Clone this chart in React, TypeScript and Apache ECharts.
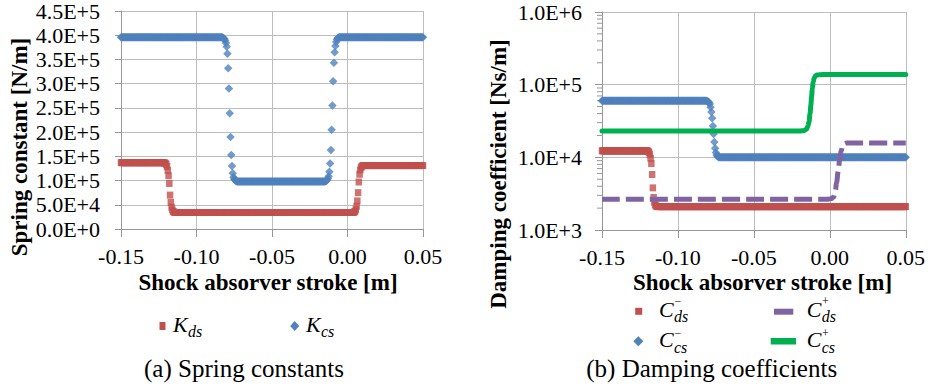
import React, { useEffect, useRef } from "react";
import * as echarts from "echarts";

// ---------- data ----------
const STEP = 0.0005; // stroke sampling step [m]
const strokeX: number[] = Array.from({ length: 401 }, (_, i) => Math.round((-0.15 + i * STEP) * 10000) / 10000);
const rep = (v: number, n: number): number[] => Array(n).fill(v);

// Spring constants, in 1000 N/m, on strokeX
const kdsValues: number[] = [
  ...rep(137, 57),
  136.8, 136.3, 135.5, 133.5, 129, 121, 110, 94, 70, 55, 45, 39.5, 36.5, 35, 34.4, 34.1,
  ...rep(34, 234),
  34.1, 34.4, 35, 36.5, 40, 47, 58, 75, 97, 113, 122, 127, 129.5, 130.5,
  ...rep(131, 80),
];
const kcsValues: number[] = [
  ...rep(396, 135),
  395, 394, 392, 389, 384, 376, 362, 332, 290, 239, 190, 153, 130, 115, 107, 103, 101, 99.5, 98.5,
  ...rep(98, 117),
  98.5, 99.5, 101, 104, 109, 118, 135, 163, 205, 255, 305, 343, 365, 378, 386, 391, 394, 395,
  ...rep(396, 112),
];

// Damping coefficients, in 1000 Ns/m
const cdsMinusValues: number[] = [
  ...rep(12.3, 60),
  12.25, 12.1, 11.7, 10.9, 9.7, 8.2, 5.8, 3.8, 2.8, 2.4, 2.22, 2.15, 2.11,
  ...rep(2.1, 328),
];
const ccsMinusValues: number[] = [
  ...rep(60, 138),
  59.7, 59.2, 58.3, 56.8, 54, 49, 42, 34.5, 27, 21, 16.3, 13.3, 11.7, 10.8, 10.35, 10.15, 10.05,
  ...rep(10, 246),
];
const cdsPlusPoints: [number, number][] = [
  [-0.15, 2.65], [-0.001, 2.65], [0.001, 2.7], [0.0025, 2.85], [0.0035, 3.3], [0.0045, 4.5],
  [0.0055, 6.5], [0.0065, 9.2], [0.0075, 12.2], [0.0085, 14.5], [0.0095, 15.4], [0.011, 15.7], [0.05, 15.7],
];
const ccsPlusPoints: [number, number][] = [
  [-0.15, 23], [-0.02, 23], [-0.017, 23.3], [-0.0155, 24.2], [-0.0145, 26.5], [-0.0137, 31],
  [-0.013, 40], [-0.0125, 52], [-0.012, 68], [-0.0115, 88], [-0.011, 108], [-0.0103, 124],
  [-0.0095, 132], [-0.0085, 135.5], [-0.007, 137], [-0.005, 137.5], [0.05, 137.5],
];

const minorTickValues: number[] = [
  2e3, 3e3, 4e3, 5e3, 6e3, 7e3, 8e3, 9e3,
  2e4, 3e4, 4e4, 5e4, 6e4, 7e4, 8e4, 9e4,
  2e5, 3e5, 4e5, 5e5, 6e5, 7e5, 8e5, 9e5,
];

// ---------- styles ----------
const FONT = "Liberation Serif";
const GRID_C = "#bdbdbd";
const AXIS_C = "#979797";
const RED = "#C0504D";
const BLUE = "#4F81BD";
const PURPLE = "#8064A2";
const GREEN = "#00B050";

const fmtX = (v: number) => (Math.abs(v) < 1e-9 ? 0 : v).toFixed(2);
const fmtSci = (v: number) => v.toExponential(1).replace("e", "E");
const fmtLog = (v: number) => "1.0E+" + Math.round(Math.log10(v));

const txt = (
  text: string,
  x: number,
  y: number,
  size: number,
  opts: { align?: string; italic?: boolean; bold?: boolean; rotation?: number; lineHeight?: number } = {}
) => ({
  type: "text",
  x,
  y,
  rotation: opts.rotation || 0,
  silent: true,
  style: {
    text,
    fontSize: size,
    fontFamily: FONT,
    fontStyle: opts.italic ? "italic" : "normal",
    fontWeight: opts.bold ? "bold" : "normal",
    align: opts.align || "left",
    verticalAlign: "middle",
    lineHeight: opts.lineHeight || size,
    fill: "#000",
  },
});

const diamond = (cx: number, cy: number, w: number, h: number, color: string) => ({
  type: "polygon",
  silent: true,
  shape: { points: [[cx, cy - h / 2], [cx + w / 2, cy], [cx, cy + h / 2], [cx - w / 2, cy]] },
  style: { fill: color },
});
const box = (x: number, y: number, w: number, h: number, color: string) => ({
  type: "rect",
  silent: true,
  shape: { x, y, width: w, height: h },
  style: { fill: color },
});

function buildOption() {
  const xAxisCommon = (gridIndex: number) => ({
    type: "value",
    gridIndex,
    min: -0.15,
    max: 0.05,
    interval: 0.05,
    axisLine: { show: true, onZero: false, lineStyle: { color: AXIS_C, width: 1 } },
    axisTick: { show: true, length: 8, lineStyle: { color: AXIS_C, width: 1 } },
    axisLabel: { margin: 16, fontFamily: FONT, fontSize: 22, color: "#000", formatter: fmtX },
    splitLine: { show: true, lineStyle: { color: GRID_C, width: 1 } },
  });

  const sup = (t: string, x: number, y: number) => txt(t, x, y, 12, { lineHeight: 12 });
  const sub = (t: string, x: number, y: number) => txt(t, x, y, 16, { italic: true, lineHeight: 16 });

  return {
    animation: false,
    backgroundColor: "#ffffff",
    grid: [
      { left: 121, top: 11, width: 302, height: 218 },
      { left: 602, top: 12, width: 308, height: 218 },
    ],
    xAxis: [xAxisCommon(0), xAxisCommon(1)],
    yAxis: [
      {
        type: "value",
        gridIndex: 0,
        min: 0,
        max: 450000,
        interval: 50000,
        axisLine: { show: true, onZero: false, lineStyle: { color: AXIS_C, width: 1 } },
        axisTick: { show: true, length: 6, lineStyle: { color: AXIS_C, width: 1 } },
        axisLabel: { margin: 21, fontFamily: FONT, fontSize: 22, color: "#000", formatter: fmtSci },
        splitLine: { show: true, lineStyle: { color: GRID_C, width: 1 } },
      },
      {
        type: "log",
        gridIndex: 1,
        logBase: 10,
        min: 1000,
        max: 1000000,
        axisLine: { show: true, onZero: false, lineStyle: { color: AXIS_C, width: 1 } },
        axisTick: { show: true, length: 7, lineStyle: { color: AXIS_C, width: 1 } },
        axisLabel: { margin: 20, fontFamily: FONT, fontSize: 22, color: "#000", formatter: fmtLog },
        splitLine: { show: true, lineStyle: { color: GRID_C, width: 1 } },
      },
    ],
    series: [
      {
        type: "scatter",
        name: "Kds",
        xAxisIndex: 0,
        yAxisIndex: 0,
        symbol: "rect",
        symbolSize: [6.5, 7],
        itemStyle: { color: RED },
        clip: false,
        silent: true,
        data: strokeX.map((x, i) => [x, kdsValues[i] * 1000]),
      },
      {
        type: "scatter",
        name: "Kcs",
        xAxisIndex: 0,
        yAxisIndex: 0,
        symbol: "diamond",
        symbolSize: 8.5,
        itemStyle: { color: BLUE },
        clip: false,
        silent: true,
        data: strokeX.map((x, i) => [x, kcsValues[i] * 1000]),
      },
      {
        type: "line",
        name: "Cds+",
        xAxisIndex: 1,
        yAxisIndex: 1,
        symbol: "none",
        showSymbol: false,
        smooth: 0.3,
        smoothMonotone: "x",
        silent: true,
        itemStyle: { color: PURPLE },
        lineStyle: { color: PURPLE, width: 5, type: [18, 6], cap: "butt", join: "round" },
        data: cdsPlusPoints.map(([x, v]) => [x, v * 1000]),
      },
      {
        type: "line",
        name: "Ccs+",
        xAxisIndex: 1,
        yAxisIndex: 1,
        symbol: "none",
        showSymbol: false,
        smooth: 0.3,
        smoothMonotone: "x",
        silent: true,
        itemStyle: { color: GREEN },
        lineStyle: { color: GREEN, width: 5, cap: "round", join: "round" },
        data: ccsPlusPoints.map(([x, v]) => [x, v * 1000]),
      },
      {
        type: "scatter",
        name: "Cds-",
        xAxisIndex: 1,
        yAxisIndex: 1,
        symbol: "rect",
        symbolSize: [6.5, 7],
        itemStyle: { color: RED },
        clip: false,
        silent: true,
        data: strokeX.map((x, i) => [x, cdsMinusValues[i] * 1000]),
      },
      {
        type: "scatter",
        name: "Ccs-",
        xAxisIndex: 1,
        yAxisIndex: 1,
        symbol: "diamond",
        symbolSize: 8.5,
        itemStyle: { color: BLUE },
        clip: false,
        silent: true,
        data: strokeX.map((x, i) => [x, ccsMinusValues[i] * 1000]),
      },
      {
        type: "custom",
        name: "minorTicks",
        xAxisIndex: 1,
        yAxisIndex: 1,
        silent: true,
        clip: false,
        encode: { x: 0, y: 1 },
        data: minorTickValues.map((v) => [-0.15, v]),
        renderItem: (_params: any, api: any) => {
          const p = api.coord([api.value(0), api.value(1)]);
          return {
            type: "line",
            shape: { x1: p[0] - 5, y1: p[1], x2: p[0], y2: p[1] },
            style: { stroke: AXIS_C, lineWidth: 1 },
          };
        },
      },
    ],
    graphic: [
      // axis titles
      txt("Spring constant [N/m]", 19, 147, 23, { bold: true, align: "center", rotation: Math.PI / 2 }),
      txt("Shock absorver stroke [m]", 268, 282, 23, { bold: true, align: "center" }),
      txt("Damping coefficient [Ns/m]", 498, 174, 23, { bold: true, align: "center", rotation: Math.PI / 2 }),
      txt("Shock absorver stroke [m]", 762.5, 282, 23, { bold: true, align: "center" }),
      // left legend
      box(159.5, 322, 6, 8, RED),
      txt("K", 173, 324, 22, { italic: true }),
      sub("ds", 188, 331.5),
      diamond(294.7, 326, 9, 10, BLUE),
      txt("K", 306, 324, 22, { italic: true }),
      sub("cs", 321, 331.5),
      // right legend row 1
      box(635.2, 307.8, 7, 7, RED),
      txt("C", 659, 309, 22, { italic: true }),
      sup("\u2212", 674.5, 300.5),
      sub("ds", 674, 316.5),
      box(774, 308.7, 19.3, 6, PURPLE),
      txt("C", 806.7, 309, 22, { italic: true }),
      sup("+", 822, 300.5),
      sub("ds", 821.7, 316.5),
      // right legend row 2
      diamond(638.3, 341.3, 10, 10, BLUE),
      txt("C", 659, 339.5, 22, { italic: true }),
      sup("\u2212", 674.5, 332.5),
      sub("cs", 674, 347.5),
      box(770.7, 338, 25.3, 6.5, GREEN),
      txt("C", 806.7, 339.5, 22, { italic: true }),
      sup("+", 822, 332.5),
      sub("cs", 821.7, 347.5),
      // captions
      txt("(a) Spring constants", 244, 368.6, 25, { align: "center" }),
      txt("(b) Damping coefficients", 711.7, 368.6, 25, { align: "center" }),
    ],
  };
}

export default function App() {
  const ref = useRef<HTMLDivElement>(null);
  useEffect(() => {
    if (!ref.current) return;
    const chart = echarts.init(ref.current, undefined, { renderer: "svg" });
    chart.setOption(buildOption() as any);
    return () => chart.dispose();
  }, []);
  return (
    <div
      ref={ref}
      style={{ position: "absolute", left: 0, top: 0, width: 928, height: 387, background: "#fff" }}
    />
  );
}
